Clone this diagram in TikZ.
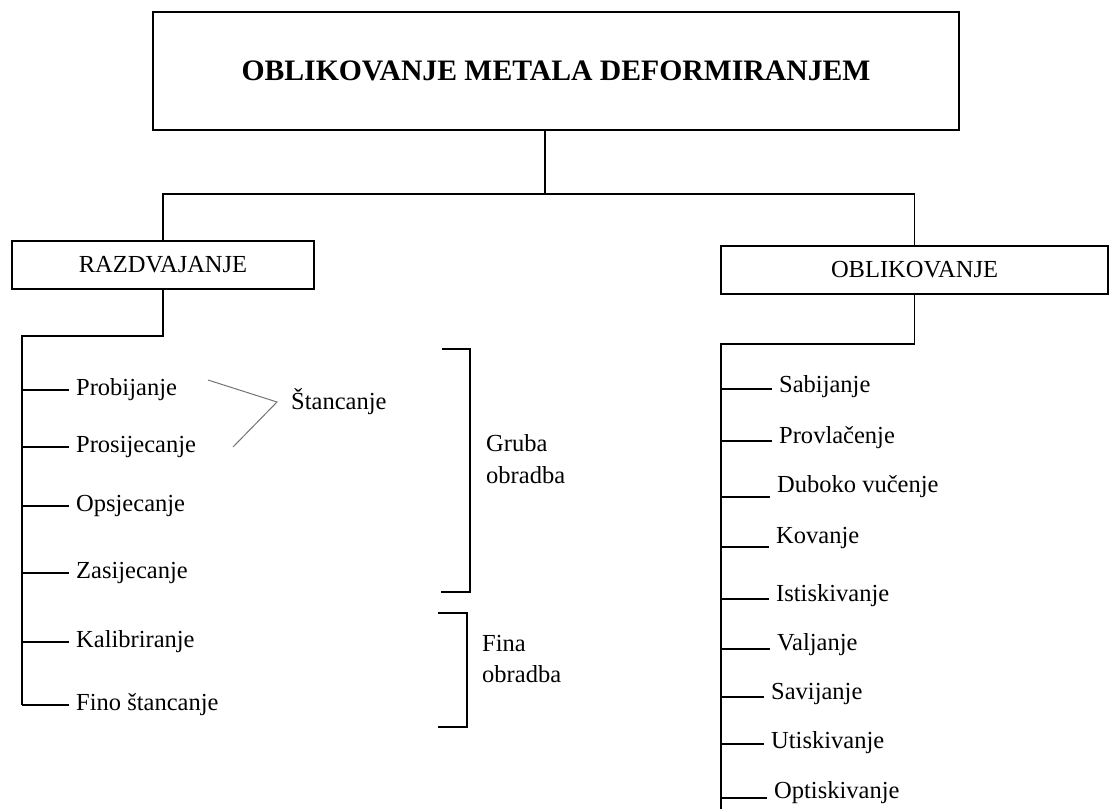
\documentclass[tikz,border=0pt]{standalone}
\usepackage{fontspec}
\setmainfont{Liberation Serif}
\usepackage{tikz}
\usetikzlibrary{calc}

\tikzset{
  box/.style={draw,rectangle,line width=1.5bp,inner sep=0pt,font=\fontsize{24.6}{30}\selectfont},
  conn/.style={line width=1.8bp},
  leaf/.style={anchor=west,inner xsep=7bp,inner ysep=0pt,font=\fontsize{24.6}{30}\selectfont},
  side/.style={anchor=west,align=left,inner sep=0pt,font=\fontsize{24.6}{32}\selectfont},
  brak/.style={line width=1.6bp},
}

\begin{document}
\begin{tikzpicture}
\useasboundingbox (0bp,0bp) rectangle (1110bp,-809bp);

% boxes
\node (title) at (556bp,-71bp)[box,minimum width=806bp,minimum height=118bp,font=\fontsize{29.8}{36}\selectfont\bfseries] {OBLIKOVANJE METALA DEFORMIRANJEM};
\node (razd) at (163bp,-265bp)[box,minimum width=302bp,minimum height=48bp] {RAZDVAJANJE};
\node (oblik) at (914.5bp,-270bp)[box,minimum width=387bp,minimum height=48bp] {OBLIKOVANJE};

\coordinate (hub) at (545bp,-194bp);
\coordinate (lsp) at (22bp,-336bp);
\coordinate (rsp) at (721bp,-344bp);
\coordinate (rend) at (721bp,-809bp);

\draw [conn] (title.south -| hub) -- (hub);
\draw [conn] (razd.north) |- (hub) -| (oblik.north);

% razdvajanje
\node (prob) at (69bp,-390bp)[leaf] {Probijanje};
\node (pros) at (69bp,-447bp)[leaf] {Prosijecanje};
\node (opsj) at (69bp,-506bp)[leaf] {Opsjecanje};
\node (zasi) at (69bp,-573bp)[leaf] {Zasijecanje};
\node (kali) at (69bp,-642bp)[leaf] {Kalibriranje};
\node (fino) at (69bp,-705bp)[leaf] {Fino štancanje};

\draw [conn] (razd.south) |- (lsp) -- (lsp |- fino.west);
\draw [conn] (lsp |- prob.west) -- (prob.west);
\draw [conn] (lsp |- pros.west) -- (pros.west);
\draw [conn] (lsp |- opsj.west) -- (opsj.west);
\draw [conn] (lsp |- zasi.west) -- (zasi.west);
\draw [conn] (lsp |- kali.west) -- (kali.west);
\draw [conn] (lsp |- fino.west) -- (fino.west);

\node (stanc) at (291bp,-402bp)[anchor=west,inner sep=0pt,font=\fontsize{24.6}{30}\selectfont] {Štancanje};
\coordinate (s1) at (208bp,-380bp);
\coordinate (s2) at (233bp,-447bp);
\draw [line width=1bp,black!55] (s1) -- ([xshift=-14bp]stanc.west) -- (s2);

\draw [brak] (442bp,-349bp) -| (470bp,-592bp) -- (441bp,-592bp);
\draw [brak] (438bp,-613bp) -| (467bp,-727bp) -- (438bp,-727bp);
\node (gruba) at (486bp,-459bp)[side] {Gruba\\obradba};
\node (fina) at (482bp,-659bp)[side] {Fina\\obradba};

% oblikovanje
\node (sabi) at (772bp,-387bp)[leaf] {Sabijanje};
\node (prov) at (772bp,-438bp)[leaf] {Provlačenje};
\node (dubo) at (770bp,-487bp)[leaf] {Duboko vučenje};
\node (kova) at (769bp,-538bp)[leaf] {Kovanje};
\node (isti) at (769bp,-596bp)[leaf] {Istiskivanje};
\node (valj) at (770bp,-645bp)[leaf] {Valjanje};
\node (savi) at (764bp,-694bp)[leaf] {Savijanje};
\node (utis) at (764bp,-743bp)[leaf] {Utiskivanje};
\node (opti) at (767bp,-793bp)[leaf] {Optiskivanje};

\draw [conn] (oblik.south) |- (rsp) -- (rend);
\draw [conn] ([yshift=-2bp]rsp |- sabi.west) -- ([yshift=-2bp]sabi.west);
\draw [conn] ([yshift=-3bp]rsp |- prov.west) -- ([yshift=-3bp]prov.west);
\draw [conn] ([yshift=-10bp]rsp |- dubo.west) -- ([yshift=-10bp]dubo.west);
\draw [conn] ([yshift=-9bp]rsp |- kova.west) -- ([yshift=-9bp]kova.west);
\draw [conn] ([yshift=-3bp]rsp |- isti.west) -- ([yshift=-3bp]isti.west);
\draw [conn] ([yshift=-4bp]rsp |- valj.west) -- ([yshift=-4bp]valj.west);
\draw [conn] ([yshift=-3bp]rsp |- savi.west) -- ([yshift=-3bp]savi.west);
\draw [conn] ([yshift=-1bp]rsp |- utis.west) -- ([yshift=-1bp]utis.west);
\draw [conn] ([yshift=-5bp]rsp |- opti.west) -- ([yshift=-5bp]opti.west);
\end{tikzpicture}
\end{document}
